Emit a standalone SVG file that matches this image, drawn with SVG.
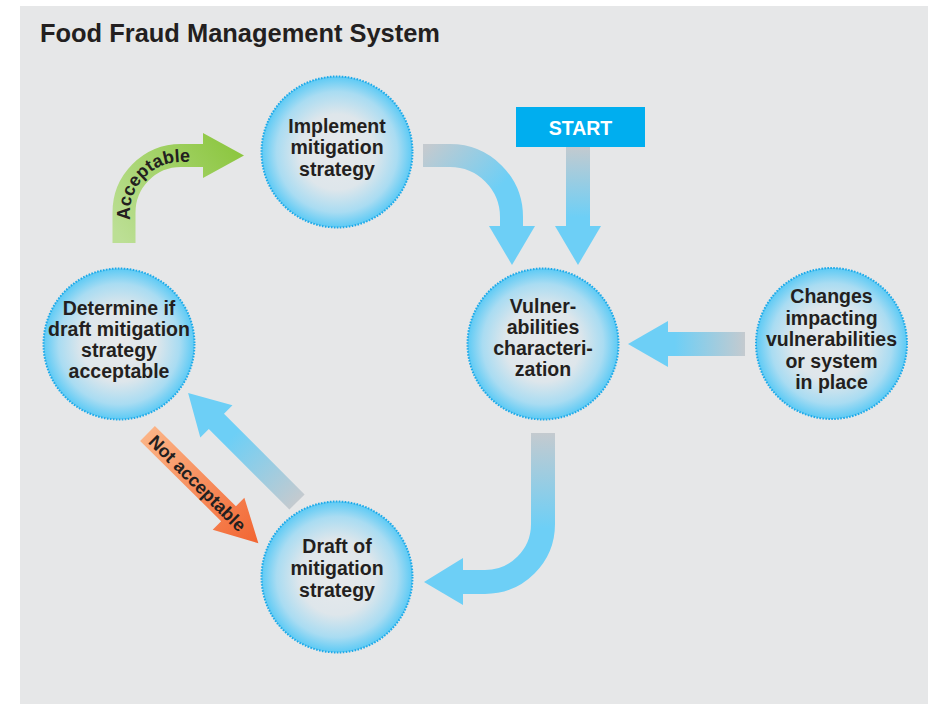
<svg xmlns="http://www.w3.org/2000/svg" width="928" height="704" viewBox="0 0 928 704">
<style>
.node{fill:url(#rg);stroke:#1ea9e8;stroke-width:2;stroke-dasharray:1.6 1.4}
.lbl{font-family:"Liberation Sans",Arial,sans-serif;font-weight:bold;font-size:19.5px;fill:#231f20;text-anchor:middle}
.alb{font-family:"Liberation Sans",Arial,sans-serif;font-weight:bold;font-size:18px;fill:#231f20}
</style>
<defs>
<radialGradient id="rg" cx="0.5" cy="0.5" r="0.5">
<stop offset="0" stop-color="#e7e9eb"/>
<stop offset="0.5" stop-color="#dee6eb"/>
<stop offset="0.8" stop-color="#a9dcf2"/>
<stop offset="1" stop-color="#5ccaf5"/>
</radialGradient>
<linearGradient id="g1" gradientUnits="userSpaceOnUse" x1="423" y1="150" x2="515" y2="235">
<stop offset="0" stop-color="#c4cacf"/><stop offset="0.65" stop-color="#6dcff6"/>
</linearGradient>
<linearGradient id="g2" gradientUnits="userSpaceOnUse" x1="0" y1="146" x2="0" y2="265">
<stop offset="0" stop-color="#c4cacf"/><stop offset="0.6" stop-color="#6dcff6"/>
</linearGradient>
<linearGradient id="g3" gradientUnits="userSpaceOnUse" x1="745" y1="0" x2="628" y2="0">
<stop offset="0" stop-color="#c4cacf"/><stop offset="0.6" stop-color="#6dcff6"/>
</linearGradient>
<linearGradient id="g4" gradientUnits="userSpaceOnUse" x1="0" y1="433" x2="0" y2="560">
<stop offset="0" stop-color="#c4cacf"/><stop offset="0.75" stop-color="#6dcff6"/>
</linearGradient>
<linearGradient id="g5" gradientUnits="userSpaceOnUse" x1="0" y1="0" x2="154" y2="0">
<stop offset="0" stop-color="#c4cacf"/><stop offset="0.6" stop-color="#6dcff6"/>
</linearGradient>
<linearGradient id="g6" gradientUnits="userSpaceOnUse" x1="0" y1="0" x2="156" y2="0">
<stop offset="0" stop-color="#fbb385"/><stop offset="1" stop-color="#f26532"/>
</linearGradient>
<linearGradient id="g7" gradientUnits="userSpaceOnUse" x1="124" y1="243" x2="244" y2="155">
<stop offset="0" stop-color="#bcdf95"/><stop offset="1" stop-color="#8cc63f"/>
</linearGradient>
<path id="accPath" d="M130,243 V213 A51,51 0 0 1 181,162 H230"/>
</defs>

<rect x="20" y="6" width="908" height="698" fill="#e6e7e8"/>
<text x="40" y="42" font-family="'Liberation Sans',Arial,sans-serif" font-weight="bold" font-size="25" fill="#231f20" textLength="400" lengthAdjust="spacingAndGlyphs">Food Fraud Management System</text>

<g id="connectors">
  <g id="c-impl-vuln">
    <path d="M423,155.5 H450 A61.5,61.5 0 0 1 511.5,217 V227" fill="none" stroke="url(#g1)" stroke-width="23"/>
    <polygon points="489,226 535,226 512,265" fill="url(#g1)"/>
  </g>
  <g id="c-start-vuln">
    <rect x="566" y="146" width="24" height="81" fill="url(#g2)"/>
    <polygon points="555,226 601,226 578,265" fill="url(#g2)"/>
  </g>
  <g id="c-chg-vuln">
    <rect x="667" y="332" width="78" height="24" fill="url(#g3)"/>
    <polygon points="668,321 668,367 628,344" fill="url(#g3)"/>
  </g>
  <g id="c-vuln-draft">
    <path d="M543,433 V524 A58,58 0 0 1 485,582 H462" fill="none" stroke="url(#g4)" stroke-width="24"/>
    <polygon points="463,558 463,605 424,582" fill="url(#g4)"/>
  </g>
  <g id="c-draft-det" transform="translate(297,502) rotate(-135)">
    <polygon points="0,-10.75 114,-10.75 114,-22.75 154,0 114,22.75 114,10.75 0,10.75" fill="url(#g5)"/>
  </g>
  <g id="c-det-draft" transform="translate(147.5,433.5) rotate(44.7)">
    <polygon points="0,-10.5 114,-10.5 114,-22.5 156,0 114,22.5 114,10.5 0,10.5" fill="url(#g6)"/>
    <text class="alb" x="70.5" y="6.5" text-anchor="middle">Not acceptable</text>
  </g>
  <g id="c-det-impl">
    <path d="M124,243 V213 A57,57 0 0 1 181,155.5 H204" fill="none" stroke="url(#g7)" stroke-width="23"/>
    <polygon points="203,133 203,178 244,155.5" fill="url(#g7)"/>
    <text class="alb"><textPath href="#accPath" startOffset="71" text-anchor="middle">Acceptable</textPath></text>
  </g>
</g>

<g id="start">
  <rect x="516" y="107" width="129" height="40" fill="#00aeef"/>
  <text class="lbl" x="580.5" y="135" style="fill:#ffffff">START</text>
</g>

<g id="implement">
  <circle class="node" cx="337" cy="152" r="75.5"/>
  <text class="lbl" x="337" y="133">Implement</text>
  <text class="lbl" x="337" y="154">mitigation</text>
  <text class="lbl" x="337" y="176">strategy</text>
</g>

<g id="vulnerabilities">
  <circle class="node" cx="543" cy="344" r="75.5"/>
  <text class="lbl" x="543" y="313">Vulner-</text>
  <text class="lbl" x="543" y="334">abilities</text>
  <text class="lbl" x="543" y="355">characteri-</text>
  <text class="lbl" x="543" y="376">zation</text>
</g>

<g id="changes">
  <circle class="node" cx="831.5" cy="343.5" r="75.5"/>
  <text class="lbl" x="831.5" y="303">Changes</text>
  <text class="lbl" x="831.5" y="324.5">impacting</text>
  <text class="lbl" x="831.5" y="346">vulnerabilities</text>
  <text class="lbl" x="831.5" y="367.5">or system</text>
  <text class="lbl" x="831.5" y="389">in place</text>
</g>

<g id="determine">
  <circle class="node" cx="119" cy="344" r="75.5"/>
  <text class="lbl" x="119" y="315">Determine if</text>
  <text class="lbl" x="119" y="336">draft mitigation</text>
  <text class="lbl" x="119" y="357">strategy</text>
  <text class="lbl" x="119" y="378">acceptable</text>
</g>

<g id="draft">
  <circle class="node" cx="337" cy="577" r="75.5"/>
  <text class="lbl" x="337" y="553">Draft of</text>
  <text class="lbl" x="337" y="575">mitigation</text>
  <text class="lbl" x="337" y="597">strategy</text>
</g>
</svg>
